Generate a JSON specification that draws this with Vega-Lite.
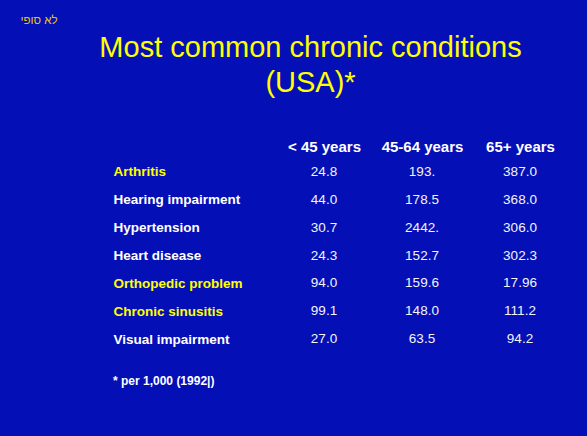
{
  "$schema": "https://vega.github.io/schema/vega-lite/v6.json",
  "width": 294,
  "height": 195,
  "autosize": {"type": "none"},
  "padding": {"left": 275, "top": 158, "right": 18, "bottom": 83},
  "background": "#0410B6",
  "title": {
    "text": "* per 1,000 (1992|)",
    "orient": "bottom",
    "anchor": "start",
    "frame": "group",
    "dx": -162,
    "offset": 23,
    "font": "Liberation Sans",
    "fontSize": 12,
    "fontWeight": "bold",
    "color": "#FFFFFF"
  },
  "data": {
    "values": [
      {"condition": "Arthritis", "age": "< 45 years", "value": "24.8"},
      {"condition": "Arthritis", "age": "45-64 years", "value": "193."},
      {"condition": "Arthritis", "age": "65+ years", "value": "387.0"},
      {"condition": "Hearing impairment", "age": "< 45 years", "value": "44.0"},
      {"condition": "Hearing impairment", "age": "45-64 years", "value": "178.5"},
      {"condition": "Hearing impairment", "age": "65+ years", "value": "368.0"},
      {"condition": "Hypertension", "age": "< 45 years", "value": "30.7"},
      {"condition": "Hypertension", "age": "45-64 years", "value": "2442."},
      {"condition": "Hypertension", "age": "65+ years", "value": "306.0"},
      {"condition": "Heart disease", "age": "< 45 years", "value": "24.3"},
      {"condition": "Heart disease", "age": "45-64 years", "value": "152.7"},
      {"condition": "Heart disease", "age": "65+ years", "value": "302.3"},
      {"condition": "Orthopedic problem", "age": "< 45 years", "value": "94.0"},
      {"condition": "Orthopedic problem", "age": "45-64 years", "value": "159.6"},
      {"condition": "Orthopedic problem", "age": "65+ years", "value": "17.96"},
      {"condition": "Chronic sinusitis", "age": "< 45 years", "value": "99.1"},
      {"condition": "Chronic sinusitis", "age": "45-64 years", "value": "148.0"},
      {"condition": "Chronic sinusitis", "age": "65+ years", "value": "111.2"},
      {"condition": "Visual impairment", "age": "< 45 years", "value": "27.0"},
      {"condition": "Visual impairment", "age": "45-64 years", "value": "63.5"},
      {"condition": "Visual impairment", "age": "65+ years", "value": "94.2"}
    ]
  },
  "mark": {
    "type": "text",
    "font": "Liberation Sans",
    "fontSize": 13.5,
    "color": "#F4F4F4",
    "align": "center",
    "baseline": "middle"
  },
  "encoding": {
    "x": {
      "field": "age",
      "type": "nominal",
      "sort": null,
      "axis": {
        "orient": "top",
        "labelAngle": 0,
        "labelFont": "Liberation Sans",
        "labelFontSize": 15,
        "labelFontWeight": "bold",
        "labelColor": "#FFFFFF",
        "labelPadding": 4,
        "title": ["Most common chronic conditions", "(USA)*"],
        "titleFont": "Liberation Sans",
        "titleFontSize": 29,
        "titleFontWeight": "normal",
        "titleColor": "#FFFF00",
        "titleX": 35,
        "titleY": -102,
        "titleAlign": "center",
        "titleBaseline": "alphabetic",
        "titleLineHeight": 35,
        "titleAngle": 0
      }
    },
    "y": {
      "field": "condition",
      "type": "nominal",
      "sort": null,
      "axis": {
        "orient": "left",
        "labelAlign": "left",
        "labelBaseline": "middle",
        "labelPadding": 162,
        "labelLimit": 300,
        "labelFont": "Liberation Sans",
        "labelFontSize": 13.5,
        "labelFontWeight": "bold",
        "labelColor": {
          "condition": {
            "test": "indexof(['Arthritis', 'Orthopedic problem', 'Chronic sinusitis'], datum.value) >= 0",
            "value": "#FFFF00"
          },
          "value": "#FFFFFF"
        },
        "title": "לא סופי",
        "titleFont": "Liberation Sans",
        "titleFontSize": 11.5,
        "titleFontWeight": "normal",
        "titleColor": "#E8C800",
        "titleAngle": 0,
        "titleX": -218,
        "titleY": -138,
        "titleAlign": "right",
        "titleBaseline": "middle"
      }
    },
    "text": {"field": "value", "type": "nominal"}
  },
  "config": {
    "view": {"stroke": null},
    "axis": {"domain": false, "ticks": false, "grid": false}
  }
}
